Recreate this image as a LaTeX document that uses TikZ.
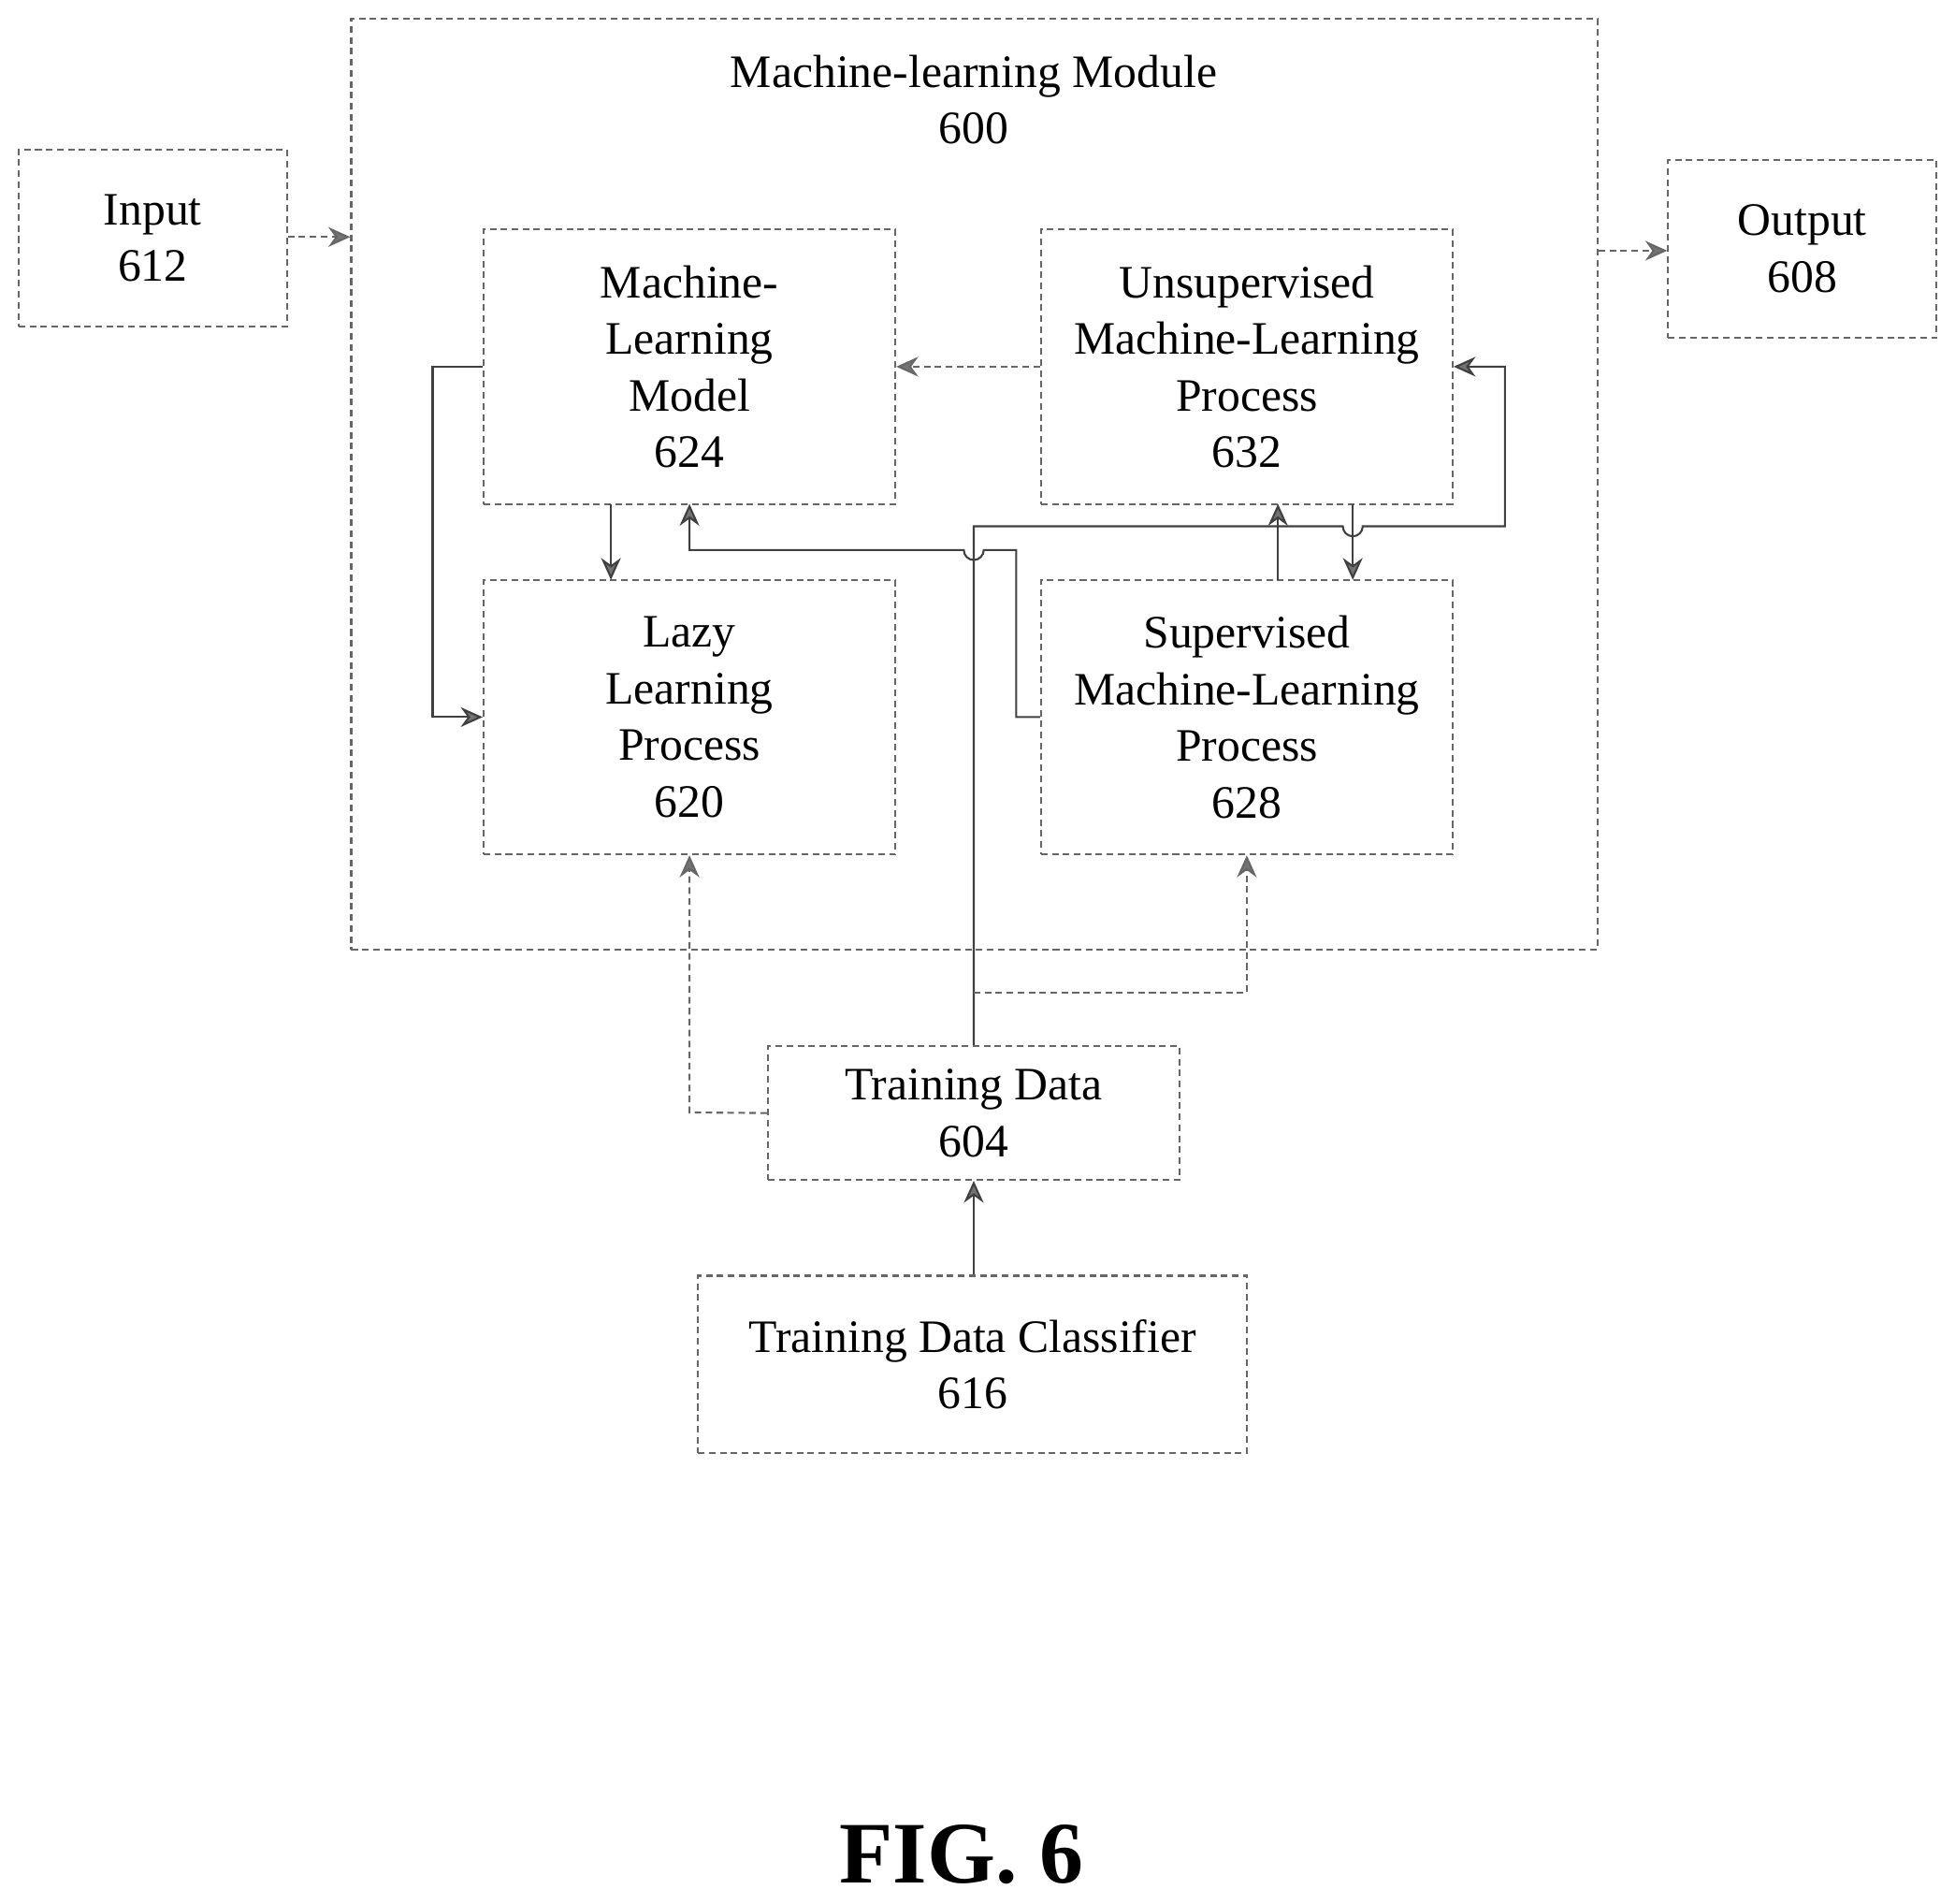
\documentclass[tikz,border=0pt]{standalone}
\usepackage{fontspec}
\setmainfont{Liberation Serif}
\usetikzlibrary{arrows.meta}
\begin{document}
\begin{tikzpicture}[x=0.01cm,y=-0.01cm,
 box/.style={draw=black!60,line width=0.45pt,dash pattern=on 1.5pt off 1pt,align=center,inner sep=0pt,font=\fontsize{10.6}{12.9}\selectfont},
 dl/.style={draw=black!60,line width=0.45pt,dash pattern=on 1.5pt off 1pt},
 sl/.style={draw=black!75,line width=0.45pt},
 ar/.style={-{Stealth[length=5pt,width=4.5pt,fill=black!55]}}]
\useasboundingbox (0,0) rectangle (1568,1526);
\node[box,minimum width=9.99cm,minimum height=7.46cm] (mod) at (781.5,388) {};
\node[font=\fontsize{10.6}{12.9}\selectfont,align=center] (modt) at (781,80) {Machine-learning Module\\600};
\node[box,minimum width=2.15cm,minimum height=1.42cm] (in) at (122.5,191) {Input\\612};
\node[box,minimum width=2.15cm,minimum height=1.43cm] (out) at (1445.5,199.5) {Output\\608};
\node[box,minimum width=3.3cm,minimum height=2.2cm] (m) at (553,294) {Machine-\\Learning\\Model\\624};
\node[box,minimum width=3.3cm,minimum height=2.2cm] (u) at (1000,294) {Unsupervised\\Machine-Learning\\Process\\632};
\node[box,minimum width=3.3cm,minimum height=2.2cm] (l) at (553,575) {Lazy\\Learning\\Process\\620};
\node[box,minimum width=3.3cm,minimum height=2.2cm] (s) at (1000,575) {Supervised\\Machine-Learning\\Process\\628};
\node[box,minimum width=3.3cm,minimum height=1.07cm] (t) at (781,892.5) {Training Data\\604};
\node[box,minimum width=4.4cm,minimum height=1.42cm] (c) at (780,1094) {Training Data Classifier\\616};
\node[font=\bfseries\fontsize{20}{24}\selectfont] (fig) at (771,1487) {FIG. 6};
\coordinate (j1) at (781,422);
\draw[dl,ar] (in.east |- 0,190) -- (mod.west |- 0,190);
\draw[dl,ar] (mod.east |- 0,201) -- (out.west |- 0,201);
\draw[dl,ar] (u.west) -- (m.east);
\draw[sl,ar] (490,404) -- (490,465);
\draw[sl,ar] (m.west) -- (347,294) -- (347,575) -- (l.west);
\draw[sl,ar] (s.west) -- (815,575) -- (815,441) -- (789,441) arc (0:180:8) -- (553,441) -- (553,404);
\draw[sl,ar] (t.north) -- (j1) -- (1077,422) arc (180:0:8) -- (1207,422) -- (1207,294) -- (u.east);
\draw[sl,ar] (1025,465) -- (1025,404);
\draw[sl,ar] (1085,404) -- (1085,465);
\draw[dl,ar] (t.west) -- (553,892) -- (l.south);
\draw[dl,ar] (781,796) -- (1000,796) -- (s.south);
\draw[sl,ar] (c.north -| t.north) -- (t.south);
\end{tikzpicture}
\end{document}
